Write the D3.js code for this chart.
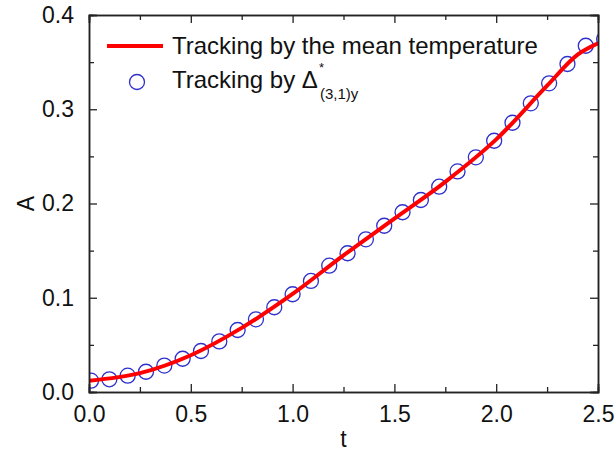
<!DOCTYPE html>
<html>
<head>
<meta charset="utf-8">
<script src="https://cdn.jsdelivr.net/npm/d3@7/dist/d3.min.js"></script>
<style>
  body { margin: 0; background: #fff; }
  svg { display: block; font-family: "Liberation Sans", Arial, sans-serif; }
</style>
</head>
<body>
<svg width="616" height="456"></svg>
<script>
// symbols: Tracking by Delta*(3,1)y
var pointT = [0.01, 0.10, 0.19, 0.28, 0.37, 0.46, 0.55, 0.64, 0.73, 0.82, 0.91, 1.00,
  1.09, 1.18, 1.27, 1.36, 1.45, 1.54, 1.63, 1.72, 1.81, 1.90, 1.99, 2.08, 2.17,
  2.26, 2.35, 2.44, 2.53];
var pointA = [0.012, 0.0135, 0.0173, 0.0215, 0.028, 0.0353, 0.0435, 0.0537, 0.0658,
  0.0771, 0.0899, 0.1037, 0.1178, 0.134, 0.1472, 0.162, 0.1764, 0.1907, 0.2037,
  0.2178, 0.234, 0.249, 0.2666, 0.2857, 0.3063, 0.3275, 0.348, 0.3674, 0.3745];

// line: Tracking by the mean temperature
var lineT = [0, 0.25, 0.5, 0.75, 1.0, 1.25, 1.5, 1.75, 2.0, 2.25, 2.4, 2.5];
var lineA = [0.012, 0.020, 0.039, 0.068, 0.104, 0.145, 0.184, 0.223, 0.268, 0.325, 0.358, 0.370];

var xTicks = [0, 0.5, 1.0, 1.5, 2.0, 2.5];
var yTicks = [0, 0.1, 0.2, 0.3, 0.4];
var xMinor = [0.25, 0.75, 1.25, 1.75, 2.25];
var yMinor = [0.05, 0.15, 0.25, 0.35];

var pLeft = 89, pTop = 15, pRight = 598, pBottom = 392;
var svg = d3.select('svg');

var x = d3.scaleLinear().domain([0, 2.5]).range([pLeft, pRight]);
var y = d3.scaleLinear().domain([0, 0.4]).range([pBottom, pTop]);

svg.append('clipPath').attr('id', 'plotclip')
  .append('rect')
  .attr('x', pLeft).attr('y', pTop)
  .attr('width', pRight - pLeft).attr('height', pBottom - pTop);

var plot = svg.append('g').attr('clip-path', 'url(#plotclip)');

plot.selectAll('circle')
  .data(pointT)
  .enter()
  .append('circle')
  .attr('cx', function(d){ return x(d); })
  .attr('cy', function(d, i){ return y(pointA[i]); })
  .attr('r', 7.5)
  .attr('fill', 'none')
  .attr('stroke', '#2f2fcc')
  .attr('stroke-width', 1.3);

var line = d3.line()
  .x(function(d){ return x(d); })
  .y(function(d, i){ return y(lineA[i]); })
  .curve(d3.curveMonotoneX);

plot.append('path')
  .attr('d', line(lineT))
  .attr('fill', 'none')
  .attr('stroke', '#ff0000')
  .attr('stroke-width', 4);

// axes, ticks inside on all four sides
function tickFmt(d){ return d3.format('.1f')(d); }

svg.append('g')
  .attr('transform', 'translate(0,' + pBottom + ')')
  .call(d3.axisBottom(x).tickValues(xTicks).tickSize(-8).tickPadding(14).tickFormat(tickFmt));
svg.append('g')
  .attr('transform', 'translate(0,' + pBottom + ')')
  .call(d3.axisBottom(x).tickValues(xMinor).tickSize(-5).tickFormat(''));
svg.append('g')
  .attr('transform', 'translate(0,' + pTop + ')')
  .call(d3.axisTop(x).tickValues(xTicks).tickSize(-8).tickFormat(''));
svg.append('g')
  .attr('transform', 'translate(0,' + pTop + ')')
  .call(d3.axisTop(x).tickValues(xMinor).tickSize(-5).tickFormat(''));

svg.append('g')
  .attr('transform', 'translate(' + pLeft + ',0)')
  .call(d3.axisLeft(y).tickValues(yTicks).tickSize(-8).tickPadding(15).tickFormat(tickFmt));
svg.append('g')
  .attr('transform', 'translate(' + pLeft + ',0)')
  .call(d3.axisLeft(y).tickValues(yMinor).tickSize(-5).tickFormat(''));
svg.append('g')
  .attr('transform', 'translate(' + pRight + ',0)')
  .call(d3.axisRight(y).tickValues(yTicks).tickSize(-8).tickFormat(''));
svg.append('g')
  .attr('transform', 'translate(' + pRight + ',0)')
  .call(d3.axisRight(y).tickValues(yMinor).tickSize(-5).tickFormat(''));

svg.selectAll('.domain').attr('stroke', '#222').attr('stroke-width', 1.5);
svg.selectAll('.tick line').attr('stroke', '#222').attr('stroke-width', 1.3);
svg.selectAll('.tick text')
  .attr('font-size', 23)
  .attr('font-family', '"Liberation Sans", Arial, sans-serif')
  .attr('fill', '#111');

// axis titles
svg.append('text')
  .attr('x', x(1.25))
  .attr('y', 447)
  .attr('text-anchor', 'middle')
  .attr('font-size', 23)
  .attr('fill', '#111')
  .text('t');

svg.append('text')
  .attr('transform', 'rotate(270)')
  .attr('x', -y(0.2))
  .attr('y', 34)
  .attr('text-anchor', 'middle')
  .attr('font-size', 23)
  .attr('fill', '#111')
  .text('A');

// legend
svg.append('line')
  .attr('x1', 107).attr('x2', 163)
  .attr('y1', 46).attr('y2', 46)
  .attr('stroke', '#ff0000')
  .attr('stroke-width', 4);
svg.append('text')
  .attr('x', 172).attr('y', 54)
  .attr('font-size', 24)
  .attr('fill', '#111')
  .text('Tracking by the mean temperature');

svg.append('circle')
  .attr('cx', 137).attr('cy', 82)
  .attr('r', 7.5)
  .attr('fill', 'none')
  .attr('stroke', '#2f2fcc')
  .attr('stroke-width', 1.3);
var lt = svg.append('text')
  .attr('x', 172).attr('y', 88)
  .attr('font-size', 24)
  .attr('fill', '#111');
lt.append('tspan').text('Tracking by \u0394');
lt.append('tspan').attr('x', 319).attr('y', 72).attr('font-size', 13).text('*');
lt.append('tspan').attr('x', 320).attr('y', 99).attr('font-size', 15).text('(3,1)y');
</script>
</body>
</html>
